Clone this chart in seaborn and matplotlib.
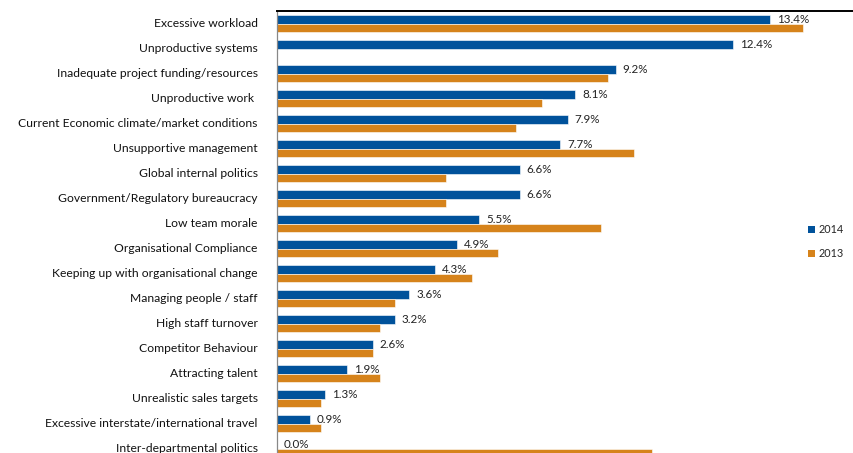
import numpy as np
import pandas as pd
import matplotlib
matplotlib.use("Agg")
import matplotlib.pyplot as plt
import matplotlib.transforms as mtransforms
from matplotlib.patches import Patch
import seaborn as sns

categories = [
    "Excessive workload",
    "Unproductive systems",
    "Inadequate project funding/resources",
    "Unproductive work ",
    "Current Economic climate/market conditions",
    "Unsupportive management",
    "Global internal politics",
    "Government/Regulatory bureaucracy",
    "Low team morale",
    "Organisational Compliance",
    "Keeping up with organisational change",
    "Managing people / staff",
    "High staff turnover",
    "Competitor Behaviour",
    "Attracting talent",
    "Unrealistic sales targets",
    "Excessive interstate/international travel",
    "Inter-departmental politics",
]
values_2014 = [13.4, 12.4, 9.2, 8.1, 7.9, 7.7, 6.6, 6.6, 5.5, 4.9, 4.3, 3.6, 3.2, 2.6, 1.9, 1.3, 0.9, 0.0]
values_2013 = [14.3, np.nan, 9.0, 7.2, 6.5, 9.7, 4.6, 4.6, 8.8, 6.0, 5.3, 3.2, 2.8, 2.6, 2.8, 1.2, 1.2, 10.2]
years = ["2014", "2013"]
colors = {"2014": "#00529B", "2013": "#D6831B"}

df = pd.concat([
    pd.DataFrame({"category": categories, "value": values_2014, "year": "2014"}),
    pd.DataFrame({"category": categories, "value": values_2013, "year": "2013"}),
], ignore_index=True)

sns.set_style("white")
plt.rcParams["font.family"] = ["Lato", "DejaVu Sans"]

fig = plt.figure(figsize=(8.54, 4.53), dpi=100)
ax = fig.add_axes([277 / 854, 1 - 461 / 453, 1 - 277 / 854, 450 / 453])

sns.barplot(data=df, y="category", x="value", hue="year", hue_order=years,
            order=categories, orient="h", palette=colors, saturation=1, width=0.68,
            edgecolor="white", linewidth=0.4, ax=ax, legend=False)

ax.set_xlim(0, 577 / 36.8)
ax.set_ylim(len(categories) - 0.5, -0.5)
ax.set_xlabel("")
ax.set_ylabel("")
ax.set_xticks([])

# value labels on the 2014 series
ax.bar_label(ax.containers[0], labels=[f"{v:.1f}%" for v in values_2014],
             padding=5, fontsize=8.4, color="#222222")

# category separators as ticks on the left axis
ax.set_yticks(np.arange(len(categories) + 1) - 0.5, minor=True)
ax.tick_params(axis="y", which="minor", length=4, width=0.8, color="#888888", direction="out")
ax.tick_params(axis="y", which="major", length=0, pad=14, labelsize=8.7, labelcolor="#111111")

# nudge category labels slightly upward
lift = mtransforms.ScaledTranslation(0, 1.5 / 100, fig.dpi_scale_trans)
for lbl in ax.get_yticklabels():
    lbl.set_transform(lbl.get_transform() + lift)

for s in ["right", "bottom"]:
    ax.spines[s].set_visible(False)
ax.spines["left"].set_color("#888888")
ax.spines["left"].set_linewidth(0.9)
ax.spines["top"].set_color("#000000")
ax.spines["top"].set_linewidth(1.4)

handles = [Patch(facecolor=colors[y], edgecolor="none", label=y) for y in years]
fig.legend(handles=handles, loc="upper left", bbox_to_anchor=(803 / 854, 1 - 219 / 453),
           frameon=False, fontsize=7.8, handlelength=0.6, handleheight=0.6,
           handletextpad=0.3, labelspacing=1.2, borderpad=0)

fig.savefig("out.png", dpi=100)
